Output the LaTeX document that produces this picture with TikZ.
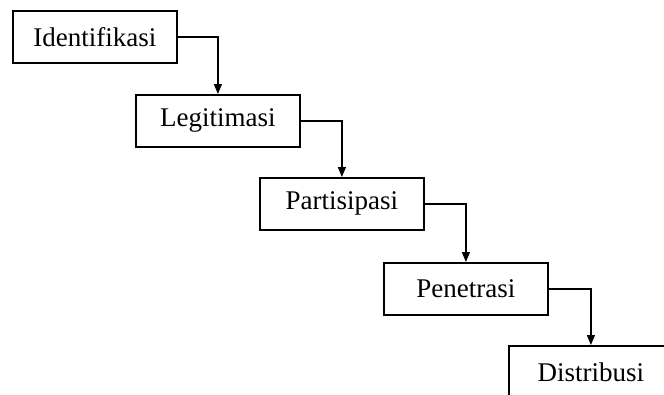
\documentclass[tikz,border=0pt]{standalone}
\usepackage{fontspec}
\setmainfont{Liberation Serif}
\usetikzlibrary{arrows.meta}
\begin{document}
\begin{tikzpicture}[x=1pt,y=1pt,
  stepbox/.style={draw, line width=1.8pt, minimum width=164pt, minimum height=52pt, inner sep=0pt, anchor=north west, font=\fontsize{27}{30}\selectfont},
  conn/.style={draw, line width=1.2pt, -{Triangle[length=10pt,width=8pt]}}]
\useasboundingbox (0,0) rectangle (664,-394);
\clip (0,0) rectangle (664,-394);
\fill[white] (0,0) rectangle (664,-394);
\node[stepbox] (a) at (12,-10) {Identifikasi};
\node[stepbox] (b) at (135,-94) {Legitimasi};
\node[stepbox] (c) at (259,-177) {Partisipasi};
\node[stepbox] (d) at (383,-262) {Penetrasi};
\node[stepbox] (e) at (508,-345) {Distribusi};
\draw[conn] (a.east) -| (b.north);
\draw[conn] (b.east) -| (c.north);
\draw[conn] (c.east) -| (d.north);
\draw[conn] (d.east) -| (e.north);
\end{tikzpicture}
\end{document}
